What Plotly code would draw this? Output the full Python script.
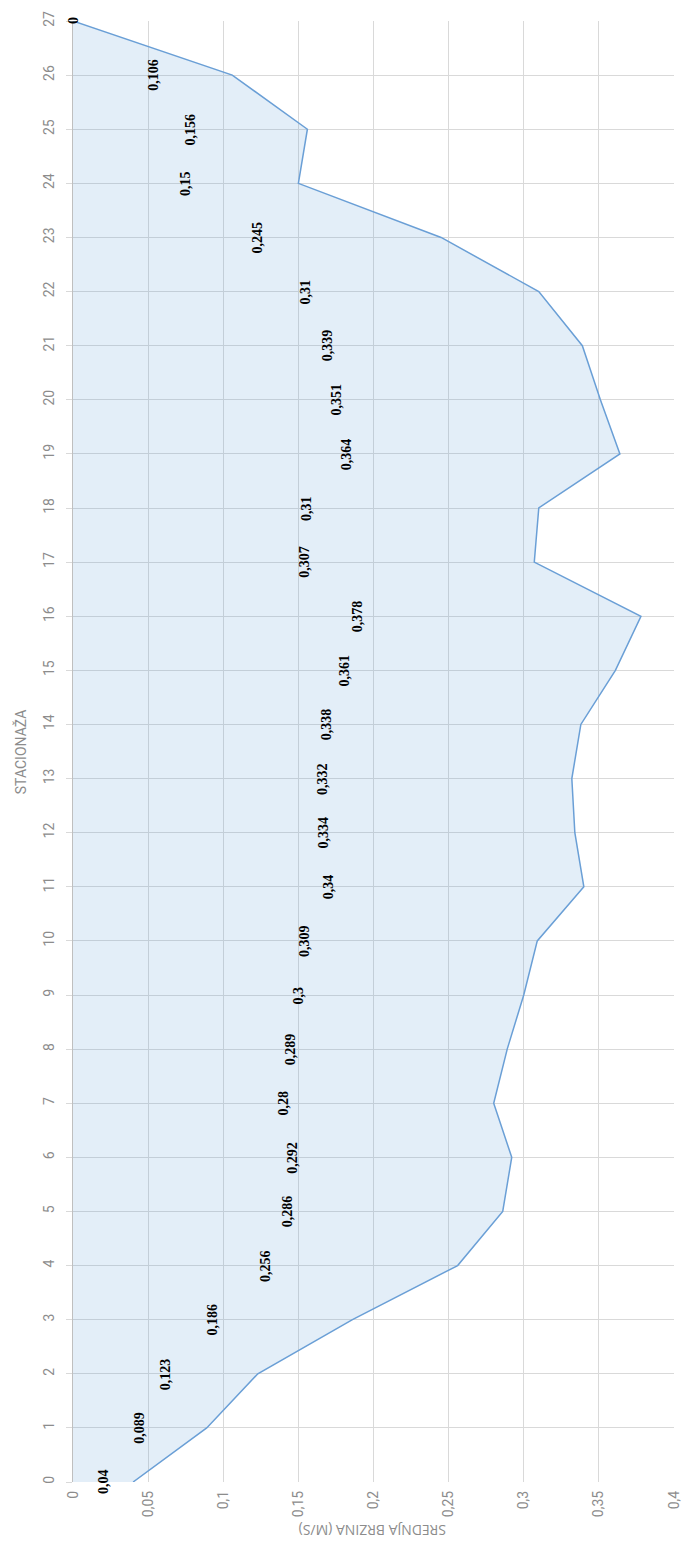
import plotly.graph_objects as go

# Mean flow velocity (m/s) at each station
stations = list(range(28))
velocity = [0.04, 0.089, 0.123, 0.186, 0.256, 0.286, 0.292, 0.28, 0.289, 0.3,
            0.309, 0.34, 0.334, 0.332, 0.338, 0.361, 0.378, 0.307, 0.31, 0.364,
            0.351, 0.339, 0.31, 0.245, 0.15, 0.156, 0.106, 0]

x_tickvals = [0, 0.05, 0.1, 0.15, 0.2, 0.25, 0.3, 0.35, 0.4]
x_ticktext = ["0", "0,05", "0,1", "0,15", "0,2", "0,25", "0,3", "0,35", "0,4"]
y_ticktext = [str(s) for s in stations]

x_title = "SREDNJA BRZINA (M/S)"
y_title = "STACIONAŽA"

LINE = "#6a9fd6"
GRID = "#d9d9d9"
TICK_FONT = dict(family="Liberation Sans Narrow, Roboto, Liberation Sans", size=14, color="#8c8c8c")

W, H = 693, 1541
ML, MR, MT, MB = 73, 11, 15, 59
PW, PH = W - ML - MR, H - MT - MB

fig = go.Figure()
fig.add_trace(go.Scatter(
    x=velocity, y=stations, mode="lines", fill="tozerox",
    line=dict(color=LINE, width=1.5),
    fillcolor="rgba(91,155,213,0.17)",
    hoverinfo="skip", showlegend=False,
))

# value labels, centred half-way across each band
for s, v in zip(stations, velocity):
    fig.add_annotation(
        x=v / 2, y=s, xref="x", yref="y",
        text="<b>" + f"{v:g}".replace(".", ",") + "</b>", showarrow=False, textangle=-90,
        xanchor="center", yanchor="middle",
        font=dict(family="Liberation Serif, Times New Roman, serif", size=14, color="#000000"),
    )

# axis titles (positions given in pixels, converted to paper units)
fig.add_annotation(
    x=(377 - ML) / PW, y=-(1530 - (H - MB)) / PH, xref="paper", yref="paper",
    text=x_title, showarrow=False, textangle=180,
    xanchor="center", yanchor="middle",
    font=dict(family="Open Sans, Liberation Sans", size=14, color="#8c8c8c"),
)
fig.add_annotation(
    x=-(ML - 20) / PW, y=0.5, xref="paper", yref="paper",
    text=y_title, showarrow=False, textangle=-90,
    xanchor="center", yanchor="middle",
    font=dict(family="Liberation Sans Narrow, Roboto", size=14, color="#8c8c8c"),
)

fig.update_layout(
    width=W, height=H,
    margin=dict(l=ML, r=MR, t=MT, b=MB),
    paper_bgcolor="white", plot_bgcolor="white",
    xaxis=dict(
        range=[0, 0.4], tickvals=x_tickvals, ticktext=x_ticktext, tickangle=-90,
        showgrid=True, gridcolor=GRID, gridwidth=1, zeroline=False,
        showline=False, ticks="", tickfont=TICK_FONT, ticklabelstandoff=5,
    ),
    yaxis=dict(
        range=[0, 27], tickvals=stations, ticktext=y_ticktext, tickangle=-90,
        showgrid=True, gridcolor=GRID, gridwidth=1, zeroline=False,
        showline=True, linecolor="#bfbfbf", linewidth=1,
        ticks="outside", ticklen=6, tickcolor=GRID, tickfont=TICK_FONT,
        ticklabelstandoff=6,
    ),
)

fig.write_html("out.html")
